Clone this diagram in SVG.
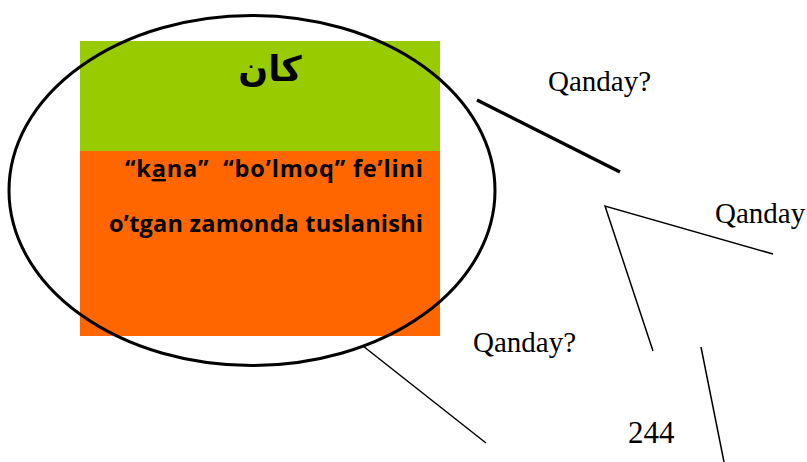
<svg xmlns="http://www.w3.org/2000/svg" width="807" height="462" viewBox="0 0 807 462">
<style>
.lbl{font-family:"Liberation Serif","Times New Roman",serif;font-size:29px;fill:#000}
.body{font-family:"Open Sans","Noto Sans",sans-serif;font-weight:bold;font-size:23.5px;fill:#000}
.conn{stroke:#000;fill:none}
</style>
<rect width="807" height="462" fill="#fff"/>
<g id="main-node">
<rect x="80" y="41" width="360" height="110" fill="#99CC00"/>
<rect x="80" y="151" width="360" height="185" fill="#FF6600"/>
<text x="270" y="81" text-anchor="middle" font-family="'DejaVu Sans',sans-serif" font-weight="bold" font-size="35">كان</text>
<text class="body" x="423" y="177" text-anchor="end" xml:space="preserve" textLength="298">“k<tspan text-decoration="underline">a</tspan>na”  “bo’lmoq” fe’lini</text>
<text class="body" x="423" y="232" text-anchor="end" textLength="314">o’tgan zamonda tuslanishi</text>
<ellipse cx="252" cy="190.5" rx="243" ry="175" fill="none" stroke="#000" stroke-width="3"/>
</g>
<g id="label-1"><text class="lbl" x="548" y="91">Qanday?</text></g>
<g id="label-2"><text class="lbl" x="715" y="223">Qanday</text></g>
<g id="label-3"><text class="lbl" x="473" y="352">Qanday?</text></g>
<g id="label-4"><text class="lbl" x="628" y="443" style="font-size:31px">244</text></g>
<g id="connectors">
<line class="conn" x1="477" y1="100" x2="620" y2="172" stroke-width="3.5"/>
<polyline class="conn" points="773,254 605,206 653,351" stroke-width="1.5"/>
<line class="conn" x1="701" y1="347" x2="724" y2="462" stroke-width="1.5"/>
<line class="conn" x1="363" y1="346" x2="486" y2="443" stroke-width="1.5"/>
</g>
</svg>
